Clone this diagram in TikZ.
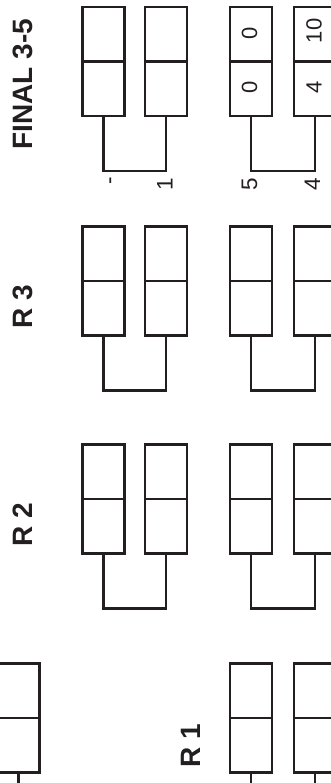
\documentclass[tikz,border=0pt]{standalone}
\usepackage{fontspec}
\setmainfont{Liberation Sans}
\definecolor{inkc}{HTML}{231F20}
\begin{document}
\begin{tikzpicture}[x=1pt,y=-1pt,
  ink/.style={draw=inkc, line width=2.8pt},
  slot/.style={ink, rectangle, minimum width=42pt, minimum height=109pt,
    inner sep=0pt, outer sep=0pt},
  roundlabel/.style={rotate=90, inner sep=0pt, text=inkc,
    font=\bfseries\fontsize{28}{28}\selectfont},
  score/.style={rotate=90, inner sep=0pt, text=inkc,
    font=\fontsize{22}{22}\selectfont},
  seed/.style={rotate=90, inner sep=0pt, text=inkc,
    font=\fontsize{22.5}{22.5}\selectfont}]
\useasboundingbox (0,0) rectangle (331,783);
\clip (0,0) rectangle (331,783);

% round titles
\node[roundlabel] (tFinal) at (22.5,84) {FINAL 3-5};
\node[roundlabel] (tR3) at (22.5,307) {R 3};
\node[roundlabel] (tR2) at (22.5,525) {R 2};
\node[roundlabel] (tR1) at (191,745.5) {R 1};

% final row
\node[slot] (f1) at (103.5,61.5) {};
\node[slot] (f2) at (166,61.5) {};
\node[slot] (f3) at (251,61.5) {};
\node[slot] (f4) at (315,61.5) {};
% round 3
\node[slot] (t1) at (103.5,281) {};
\node[slot] (t2) at (166,281) {};
\node[slot] (t3) at (251,281) {};
\node[slot] (t4) at (315,281) {};
% round 2
\node[slot] (s1) at (103.5,499) {};
\node[slot] (s2) at (166,499) {};
\node[slot] (s3) at (251,499) {};
\node[slot] (s4) at (315,499) {};
% round 1
\node[slot] (o0) at (18.5,718) {};
\node[slot] (o3) at (251,718) {};
\node[slot] (o4) at (315,718) {};

% split each slot into two cells
\foreach \b in {f1,f2,f3,f4,t1,t2,t3,t4,s1,s2,s3,s4,o0,o3,o4}
  \draw[ink] (\b.west) -- (\b.east);

% pair connectors
\draw[ink] (f1.south) -- ++(0,55) -| (f2.south);
\draw[ink] (f3.south) -- ++(0,55) -| (f4.south);
\draw[ink] (t1.south) -- ++(0,55) -| (t2.south);
\draw[ink] (t3.south) -- ++(0,55) -| (t4.south);
\draw[ink] (s1.south) -- ++(0,55) -| (s2.south);
\draw[ink] (s3.south) -- ++(0,55) -| (s4.south);

% round 1 leads running past the edge
\coordinate (o0x) at (18.5,800);
\coordinate (o3x) at (251,800);
\coordinate (o4x) at (315,800);
\draw[ink] (o0.south) -- (o0x);
\draw[ink] (o3.south) -- (o3x);
\draw[ink] (o4.south) -- (o4x);

% scores
\node[score] (sc3a) at (249.5,33.5) {0};
\node[score] (sc3b) at (249.5,87.5) {0};
\node[score] (sc4a) at (314,31) {10};
\node[score] (sc4b) at (314,87.5) {4};

% seeds under the final pairs
\node[seed] (sd1) at (113,180.5) {-};
\node[seed] (sd2) at (165,184) {1};
\node[seed] (sd3) at (249.5,184.5) {5};
\node[seed] (sd4) at (312.5,184.5) {4};
\end{tikzpicture}
\end{document}
